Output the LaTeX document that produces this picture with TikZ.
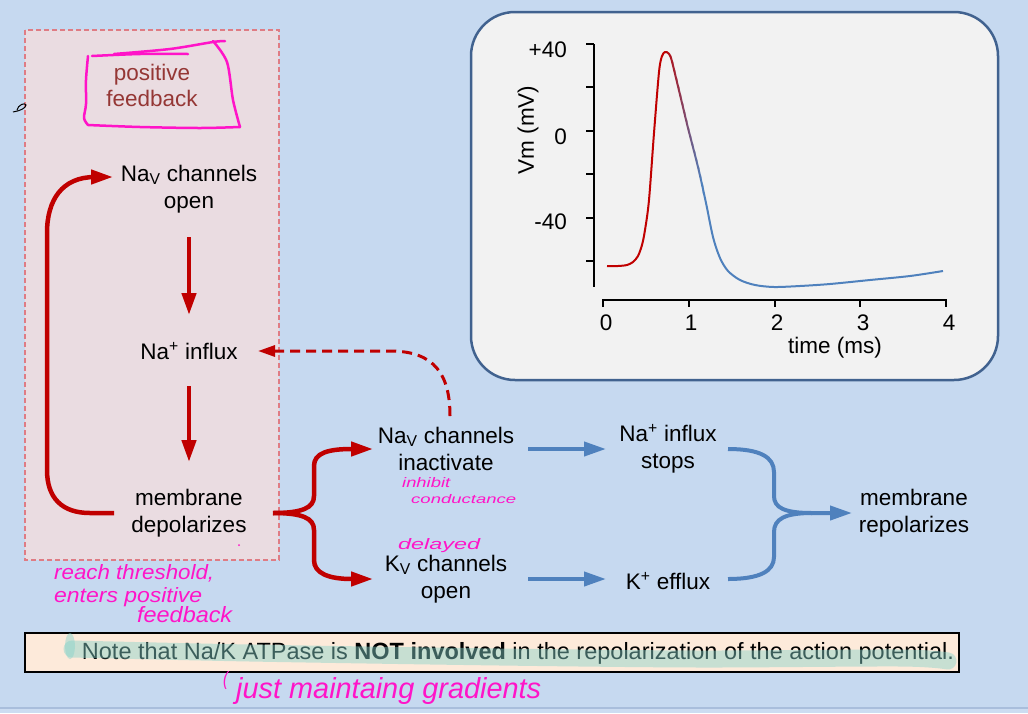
\documentclass[tikz,border=0pt]{standalone}
\usepackage{fontspec}
\usepackage{graphicx}
\setmainfont{Liberation Sans}
\usetikzlibrary{arrows.meta,calc}
\definecolor{bgblue}{HTML}{C6D9F0}
\definecolor{bglow}{HTML}{CCDCF1}
\definecolor{bgline}{HTML}{A9BEDC}
\definecolor{pinkfill}{HTML}{EADCE1}
\definecolor{pinkedge}{HTML}{DF7C84}
\definecolor{apred}{HTML}{C00000}
\definecolor{apblue}{HTML}{4F81BD}
\definecolor{fbtext}{HTML}{953735}
\definecolor{plotbg}{HTML}{F2F2F2}
\definecolor{plotedge}{HTML}{41628F}
\definecolor{notefill}{HTML}{FDEADA}
\definecolor{hand}{RGB}{255,20,200}
\definecolor{hilite}{HTML}{86D2CA}
\newcommand{\apcurvedraw}[1]{\draw[#1,line width=2pt,line join=round] plot[smooth,tension=0.5] coordinates{(607,266) (618,266) (627,265) (633,262) (638,256) (642,245) (645,230) (649,200) (654,133) (659,72) (662,56) (665,52) (668,53) (671,58) (676,78) (682,103) (688,128) (698,167) (706,203) (713,237) (720,258) (728,271) (740,280) (755,285) (774,287) (800,286) (830,284) (870,280) (910,276) (943,271)};}
\begin{document}
\begin{tikzpicture}[x=1pt,y=-1pt,
  lbl/.style={font=\fontsize{22.5}{27.5}\selectfont, align=center, inner sep=0pt, text=black},
  axlbl/.style={font=\fontsize{22.5}{26}\selectfont, inner sep=0pt, text=black},
  redarr/.style={draw=apred, line width=4.5pt, -{Triangle[length=22pt,width=14pt]}},
  redline/.style={draw=apred, line width=4.5pt},
  dasharr/.style={draw=apred, line width=3pt, dash pattern=on 10pt off 6pt, -{Triangle[length=17pt,width=11pt]}},
  bluearr/.style={draw=apblue, line width=4pt, -{Triangle[length=22pt,width=14pt]}},
  blueline/.style={draw=apblue, line width=4pt},
  axis/.style={draw=black, line width=2pt},
  handtxt/.style={text=hand, font=\itshape, inner sep=0pt, anchor=base west},
  handstroke/.style={draw=hand, line width=2.5pt, line cap=round, line join=round}
]
% background
\fill[bgblue] (0,0) rectangle (1028,713);
\useasboundingbox (0,0) rectangle (1028,713);
\fill[bglow] (0,708) rectangle (1028,713);
\draw[bgline, line width=1.2pt] (0,708) -- (1028,708);

% positive feedback box
\draw[pinkedge, fill=pinkfill, line width=1.3pt, dash pattern=on 5pt off 3pt] (25,30) rectangle (279,560);
\node[lbl, text=fbtext, font=\fontsize{22.5}{26}\selectfont] (pf) at (152,85) {positive\\feedback};
\draw[handstroke] plot[smooth] coordinates {(88,56) (86,80) (86,104) (84,118) (88,125)};
\draw[handstroke] plot[smooth] coordinates {(88,125) (140,127) (200,128) (240,127)};
\draw[handstroke] plot[smooth] coordinates {(213,41) (227,62) (233,100) (240,127)};
\draw[handstroke] plot[smooth] coordinates {(92,56) (140,54) (188,54)};
\draw[handstroke] plot[smooth] coordinates {(114,54) (170,49) (213,42) (225,41)};

% nodes
\node[lbl] (navopen) at (189,189) {Na\textsubscript{V} channels\\open};
\node[lbl] (nainflux) at (189,351) {Na\textsuperscript{+} influx};
\node[lbl] (depol) at (189,513) {membrane\\depolarizes};
\node[lbl] (navinact) at (446,449) {Na\textsubscript{V} channels\\inactivate};
\node[lbl] (kvopen) at (446,579) {K\textsubscript{V} channels\\open};
\node[lbl] (nastops) at (668,449) {Na\textsuperscript{+} influx\\stops};
\node[lbl] (kefflux) at (668,581) {K\textsuperscript{+} efflux};
\node[lbl] (repol) at (914,513) {membrane\\repolarizes};

% red connectors
\draw[redarr] ([yshift=-48pt]navopen.center) -- ([yshift=36pt]nainflux.center);
\draw[redarr] ([yshift=-35pt]nainflux.center) -- ([yshift=51pt]depol.center);
\draw[redarr] ([xshift=-75pt]depol.center) -- (90,513) .. controls (62,513) and (47,498) .. (47,470) -- (47,233) .. controls (47,200) and (62,177) .. (95,177) -- ([xshift=-76pt,yshift=12pt]navopen.center);
\draw[redarr] ([xshift=84pt]depol.center) .. controls (302,513) and (314,508) .. (314,496) -- (314,466) .. controls (314,453) and (328,449) .. (352,449) -- ([xshift=-73pt]navinact.center);
\draw[redarr] ([xshift=84pt]depol.center) .. controls (302,513) and (314,518) .. (314,530) -- (314,560) .. controls (314,573) and (328,579) .. (352,579) -- ([xshift=-73pt]kvopen.center);
\draw[dasharr] ([xshift=4pt,yshift=33pt]navinact.center) .. controls (450,375) and (435,351) .. (390,351) -- ([xshift=69pt]nainflux.center);

% blue connectors
\draw[bluearr] ([xshift=82pt]navinact.center) -- ([xshift=-62pt]nastops.center);
\draw[bluearr] ([xshift=82pt]kvopen.center) -- ($(kefflux.center |- kvopen.center)+(-62,0)$);
\draw[blueline] ($(kefflux.center |- kvopen.center)+(60,0)$) .. controls (760,579) and (774,571) .. (774,557) -- (774,532) .. controls (774,519) and (785,513) .. (812,513);
\draw[bluearr] ([xshift=60pt]nastops.center) .. controls (760,449) and (774,457) .. (774,472) -- (774,496) .. controls (774,508) and (785,513) .. (812,513) -- ([xshift=-62pt]repol.center);

% graph panel
\draw[plotedge, fill=plotbg, line width=2.5pt, rounded corners=44pt] (471,12) rectangle (998,380);
\draw[axis] (594,44) -- (594,287);
\foreach \yy in {44,87.4,130.8,174.2,217.6,261} \draw[axis] (586,\yy) -- (594,\yy);
\draw[axis] (603,307) -- (603,300) -- (946,300) -- (946,307);
\foreach \xx in {688.75,774.5,860.25} \draw[axis] (\xx,300) -- (\xx,307);
\node[axlbl, anchor=east] (yl1) at (567,50) {+40};
\node[axlbl, anchor=east] (yl2) at (567,137) {0};
\node[axlbl, anchor=east] (yl3) at (567,222) {-40};
\node[axlbl, rotate=90] (ylab) at (528,130) {Vm (mV)};
\node[axlbl] (xl0) at (606,323) {0};
\node[axlbl] (xl1) at (691,323) {1};
\node[axlbl] (xl2) at (777,323) {2};
\node[axlbl] (xl3) at (863,323) {3};
\node[axlbl] (xl4) at (949,323) {4};
\node[axlbl] (xlab) at (835,348) {time (ms)};
\begin{scope}
\clip (600,30) rectangle (663,300);
\apcurvedraw{apred}
\end{scope}
\foreach \i in {0,...,19}{
  \pgfmathsetmacro{\xa}{663+2*\i}
  \pgfmathtruncatemacro{\pct}{100*\i/19}
  \begin{scope}
  \clip (\xa,30) rectangle (\xa+2.3,300);
  \apcurvedraw{apblue!\pct!apred}
  \end{scope}
}
\begin{scope}
\clip (702.5,30) rectangle (960,300);
\apcurvedraw{apblue}
\end{scope}

% note
\node[draw=black, line width=1.5pt, fill=notefill, minimum width=934pt, minimum height=39pt, inner sep=0pt] (note) at (492,652.5) {};
\node[font=\fontsize{23.5}{26}\selectfont, inner sep=0pt] (notetext) at (518,653) {Note that Na/K ATPase is \textbf{NOT involved} in the repolarization of the action potential.};
\draw[hilite, opacity=0.45, line width=17pt, line cap=round] plot[smooth] coordinates {(72,649) (250,653) (500,657) (700,659) (900,658) (948,661)};
\fill[hilite, opacity=0.45] (70,646) ellipse (5pt and 13pt);

% handwritten annotations
\node[handtxt] (h1) at (54,579) {\resizebox{160pt}{15pt}{reach threshold,}};
\node[handtxt] (h2) at (54,602) {\resizebox{148pt}{15pt}{enters positive}};
\node[handtxt] (h3) at (137,622) {\resizebox{95pt}{16pt}{feedback}};
\node[handtxt] (h4) at (402,487) {\resizebox{48pt}{10pt}{inhibit}};
\node[handtxt] (h5) at (411,503) {\resizebox{105pt}{9pt}{conductance}};
\node[handtxt] (h6) at (398,549) {\resizebox{82pt}{11pt}{delayed}};
\node[handtxt] (h7) at (223,685) {\resizebox{5pt}{14pt}{(}};
\node[handtxt] (h8) at (236,698) {\resizebox{305pt}{21pt}{just maintaing gradients}};
\fill[hand] (239,545) circle (1pt);
\draw[black, line width=1pt] (13,112) .. controls (20,111) and (26,108) .. (26,105) .. controls (25,102) and (18,105) .. (17,110);
\end{tikzpicture}
\end{document}
